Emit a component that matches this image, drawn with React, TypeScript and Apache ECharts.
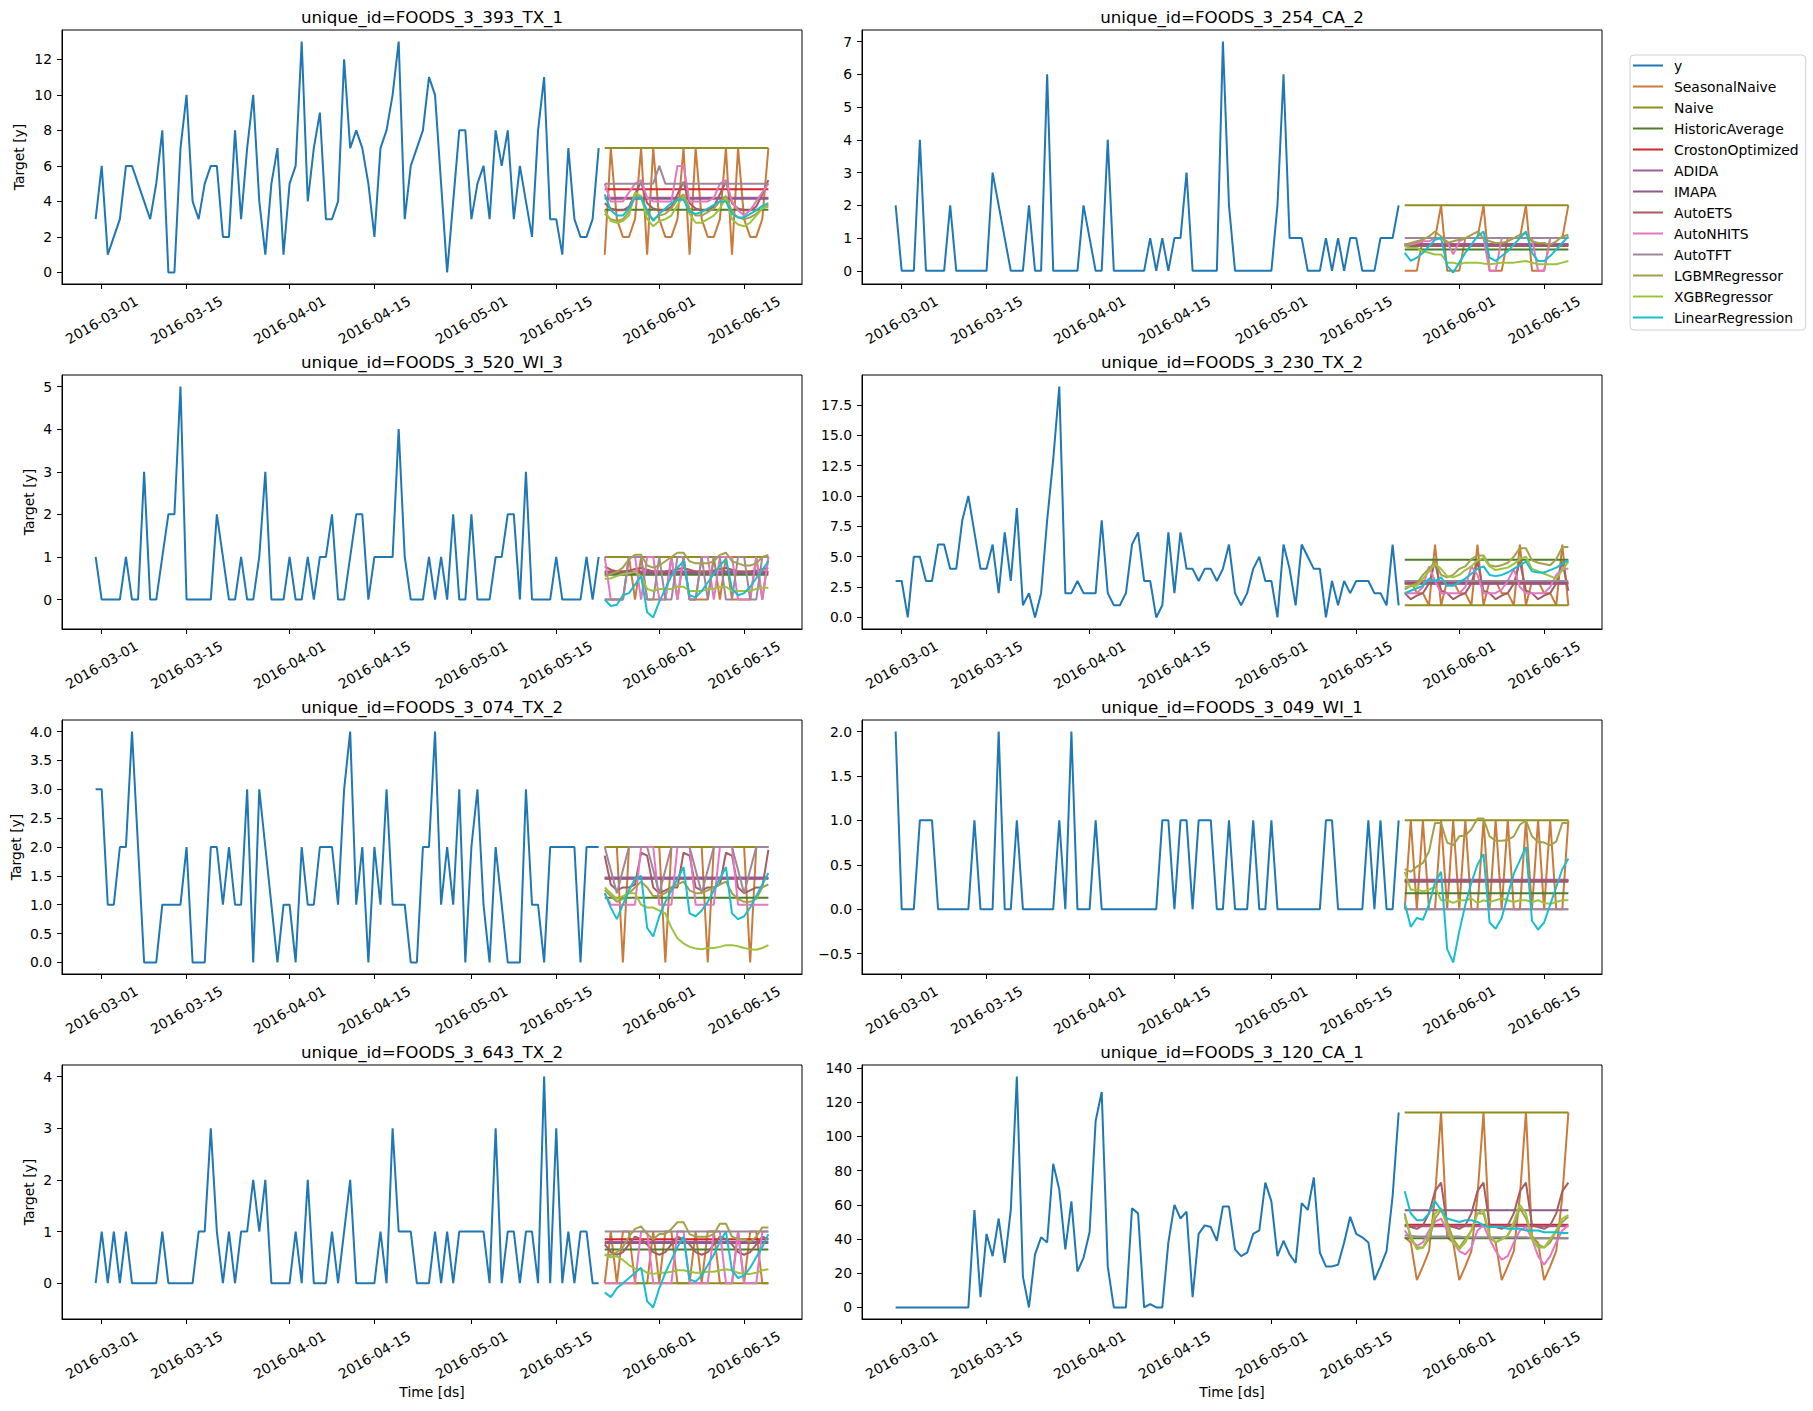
import React, { useEffect, useRef } from "react";
import * as echarts from "echarts";

const FONT = "DejaVu Sans";

// legend order: history first, then the forecast models
const models = [
  "SeasonalNaive", "Naive", "HistoricAverage", "CrostonOptimized", "ADIDA", "IMAPA",
  "AutoETS", "AutoNHITS", "AutoTFT", "LGBMRegressor", "XGBRegressor", "LinearRegression",
];
const lineColors = [
  "#1f77b4", "#c97b3c", "#928e1d", "#4d7e28", "#d62728", "#a35a9d", "#8b5b85",
  "#a65c63", "#e377c2", "#9e8898", "#a3a04a", "#9dc33e", "#17becf",
];

// history: 84 days from 2016-02-29, forecasts: 28 days from 2016-05-23
const histStart = "2016-02-29";
const histDays = 84;
const fcStart = "2016-05-23";
const fcDays = 28;
const xTickLabels = [
  "2016-03-01", "2016-03-15", "2016-04-01", "2016-04-15",
  "2016-05-01", "2016-05-15", "2016-06-01", "2016-06-15",
];

// ---------- FOODS_3_393_TX_1 ----------
const y_393_TX_1 = [3,6,1,2,3,6,6,5,4,3, 5,8,0,0,7,10,4,3,5,6, 6,2,2,8,3,7,10,4,1,5, 7,1,5,6,13,4,7,9,3,3,
  4,12,7,8,7,5,2,7,8,10, 13,3,6,7,8,11,10,5,0,4, 8,8,3,5,6,3,8,6,8,3, 6,4,2,8,11,3,3,1,7,3, 2,2,3,7];
const fc_393_TX_1 = [
  [1,7,3,2,2,3,7, 1,7,3,2,2,3,7, 1,7,3,2,2,3,7, 1,7,3,2,2,3,7],
  [7,7,7,7,7,7,7, 7,7,7,7,7,7,7, 7,7,7,7,7,7,7, 7,7,7,7,7,7,7],
  [3.53,3.53,3.53,3.53,3.53,3.53,3.53, 3.53,3.53,3.53,3.53,3.53,3.53,3.53, 3.53,3.53,3.53,3.53,3.53,3.53,3.53, 3.53,3.53,3.53,3.53,3.53,3.53,3.53],
  [4.68,4.68,4.68,4.68,4.68,4.68,4.68, 4.68,4.68,4.68,4.68,4.68,4.68,4.68, 4.68,4.68,4.68,4.68,4.68,4.68,4.68, 4.68,4.68,4.68,4.68,4.68,4.68,4.68],
  [4.2,4.2,4.2,4.2,4.2,4.2,4.2, 4.2,4.2,4.2,4.2,4.2,4.2,4.2, 4.2,4.2,4.2,4.2,4.2,4.2,4.2, 4.2,4.2,4.2,4.2,4.2,4.2,4.2],
  [4.15,4.15,4.15,4.15,4.15,4.15,4.15, 4.15,4.15,4.15,4.15,4.15,4.15,4.15, 4.15,4.15,4.15,4.15,4.15,4.15,4.15, 4.15,4.15,4.15,4.15,4.15,4.15,4.15],
  [3.9,3.6,3.5,3.5,3.7,4.4,5.1, 3.9,3.6,3.5,3.5,3.7,4.4,5.1, 3.9,3.6,3.5,3.5,3.7,4.4,5.1, 3.9,3.6,3.5,3.5,3.7,4.4,5.2],
  [5.0,4.0,4.0,4.0,4.5,5.0,5.2, 4.2,4.0,4.0,4.0,4.0,6.0,6.0, 4.0,4.0,4.0,4.0,4.2,5.0,5.2, 4.0,3.5,3.2,3.5,4.0,4.5,5.0],
  [5,5,5,5,5,5,5, 5,5,6,5,5,5,5, 5,5,5,5,5,5,5, 5,5,5,5,5,5,5],
  [3.3,3.0,2.9,3.0,3.4,4.4,4.2, 3.3,3.0,3.2,3.3,3.6,4.1,4.4, 3.6,3.2,3.2,3.4,3.6,4.0,4.3, 3.4,3.1,3.0,3.1,3.3,3.6,3.8],
  [3.5,2.9,2.8,2.9,3.2,4.5,4.3, 3.0,2.6,2.9,3.0,3.2,3.8,4.3, 3.3,2.8,2.8,3.0,3.2,3.6,4.2, 3.0,2.7,2.6,2.8,3.2,3.6,3.7],
  [4.4,3.5,3.2,3.2,3.6,4.2,4.2, 3.5,2.9,3.3,3.6,3.9,4.1,4.1, 3.4,3.3,3.4,3.6,3.8,4.0,4.0, 3.3,3.1,3.1,3.3,3.5,3.75,3.9],
];
const ticks_393_TX_1 = [0, 2, 4, 6, 8, 10, 12];

// ---------- FOODS_3_254_CA_2 ----------
const y_254_CA_2 = [2,0,0,0,4,0,0,0,0,2, 0,0,0,0,0,0,3,2,1,0, 0,0,2,0,0,6,0,0,0,0, 0,2,1,0,0,4,0,0,0,0,
  0,0,1,0,1,0,1,1,3,0, 0,0,0,0,7,2,0,0,0,0, 0,0,0,2,6,1,1,1,0,0, 0,1,0,1,0,1,1,0,0,0, 1,1,1,2];
const fc_254_CA_2 = [
  [0,0,0,1,1,1,2, 0,0,0,1,1,1,2, 0,0,0,1,1,1,2, 0,0,0,1,1,1,2],
  [2,2,2,2,2,2,2, 2,2,2,2,2,2,2, 2,2,2,2,2,2,2, 2,2,2,2,2,2,2],
  [0.65,0.65,0.65,0.65,0.65,0.65,0.65, 0.65,0.65,0.65,0.65,0.65,0.65,0.65, 0.65,0.65,0.65,0.65,0.65,0.65,0.65, 0.65,0.65,0.65,0.65,0.65,0.65,0.65],
  [0.8,0.8,0.8,0.8,0.8,0.8,0.8, 0.8,0.8,0.8,0.8,0.8,0.8,0.8, 0.8,0.8,0.8,0.8,0.8,0.8,0.8, 0.8,0.8,0.8,0.8,0.8,0.8,0.8],
  [0.82,0.82,0.82,0.82,0.82,0.82,0.82, 0.82,0.82,0.82,0.82,0.82,0.82,0.82, 0.82,0.82,0.82,0.82,0.82,0.82,0.82, 0.82,0.82,0.82,0.82,0.82,0.82,0.82],
  [0.78,0.78,0.78,0.78,0.78,0.78,0.78, 0.78,0.78,0.78,0.78,0.78,0.78,0.78, 0.78,0.78,0.78,0.78,0.78,0.78,0.78, 0.78,0.78,0.78,0.78,0.78,0.78,0.78],
  [0.76,0.76,0.76,0.76,0.76,0.76,0.76, 0.76,0.76,0.76,0.76,0.76,0.76,0.76, 0.76,0.76,0.76,0.76,0.76,0.76,0.76, 0.76,0.76,0.76,0.76,0.76,0.76,0.76],
  [0.8,0.8,0.85,0.9,0.9,1.0,1.0, 0.9,0.5,0.9,1.0,1.0,1.0,1.0, 0.0,0.0,1.0,1.0,1.0,1.0,1.0, 1.0,0.0,0.0,1.0,1.0,1.0,1.0],
  [1,1,1,1,1,1,1, 1,1,1,1,1,1,1, 1,1,1,1,1,1,1, 1,1,1,1,1,1,1],
  [0.8,0.85,0.9,0.95,1.05,1.2,1.05, 0.85,0.9,0.95,1.0,1.1,1.2,1.0, 0.9,0.85,0.85,0.9,1.0,1.1,1.15, 0.9,0.85,0.85,0.8,0.9,1.05,1.1],
  [0.75,0.7,0.7,0.6,0.55,0.5,0.5, 0.25,0.25,0.2,0.25,0.25,0.25,0.22, 0.2,0.22,0.25,0.25,0.25,0.28,0.3, 0.25,0.2,0.2,0.2,0.2,0.25,0.3],
  [0.55,0.3,0.4,0.55,0.75,0.95,1.0, 0.15,-0.05,0.25,0.55,0.8,1.05,1.2, 0.4,0.3,0.45,0.6,0.8,1.0,1.2, 0.55,0.3,0.3,0.45,0.65,0.85,1.05],
];
const ticks_254_CA_2 = [0, 1, 2, 3, 4, 5, 6, 7];

// ---------- FOODS_3_520_WI_3 ----------
const y_520_WI_3 = [1,0,0,0,0,1,0,0,3,0, 0,1,2,2,5,0,0,0,0,0, 2,1,0,0,1,0,0,1,3,0, 0,0,1,0,0,1,0,1,1,2,
  0,0,1,2,2,0,1,1,1,1, 4,1,0,0,0,1,0,1,0,2, 0,0,2,0,0,0,1,1,2,2, 0,3,0,0,0,0,1,0,0,0, 0,1,0,1];
const fc_520_WI_3 = [
  [0,0,0,0,1,0,1, 0,0,0,0,1,0,1, 0,0,0,0,1,0,1, 0,0,0,0,1,0,1],
  [1,1,1,1,1,1,1, 1,1,1,1,1,1,1, 1,1,1,1,1,1,1, 1,1,1,1,1,1,1],
  [0.58,0.58,0.58,0.58,0.58,0.58,0.58, 0.58,0.58,0.58,0.58,0.58,0.58,0.58, 0.58,0.58,0.58,0.58,0.58,0.58,0.58, 0.58,0.58,0.58,0.58,0.58,0.58,0.58],
  [0.66,0.66,0.66,0.66,0.66,0.66,0.66, 0.66,0.66,0.66,0.66,0.66,0.66,0.66, 0.66,0.66,0.66,0.66,0.66,0.66,0.66, 0.66,0.66,0.66,0.66,0.66,0.66,0.66],
  [0.64,0.64,0.64,0.64,0.64,0.64,0.64, 0.64,0.64,0.64,0.64,0.64,0.64,0.64, 0.64,0.64,0.64,0.64,0.64,0.64,0.64, 0.64,0.64,0.64,0.64,0.64,0.64,0.64],
  [0.62,0.62,0.62,0.62,0.62,0.62,0.62, 0.62,0.62,0.62,0.62,0.62,0.62,0.62, 0.62,0.62,0.62,0.62,0.62,0.62,0.62, 0.62,0.62,0.62,0.62,0.62,0.62,0.62],
  [0.78,0.7,0.66,0.66,0.68,0.72,0.74, 0.7,0.66,0.65,0.66,0.68,0.72,0.74, 0.7,0.66,0.65,0.66,0.68,0.72,0.74, 0.7,0.66,0.65,0.66,0.68,0.72,0.74],
  [1,0,0,0,1,1,0, 1,1,0,0,1,0,1, 0,0,1,1,0,1,1, 1,0,0,0,1,0,1],
  [0,0,0,0,1,1,1, 0,0,1,0,0,1,1, 0,0,1,0,1,1,0, 0,1,1,0,0,1,1],
  [0.55,0.6,0.65,0.75,0.95,1.05,1.05, 0.8,0.75,0.8,0.9,1.0,1.1,1.1, 0.9,0.85,0.85,0.85,0.9,1.05,1.1, 0.9,0.85,0.8,0.8,0.85,1.0,1.05],
  [0.48,0.5,0.55,0.6,0.62,0.65,0.55, 0.25,0.2,0.25,0.25,0.25,0.3,0.3, 0.2,0.2,0.2,0.25,0.25,0.3,0.3, 0.2,0.2,0.2,0.2,0.25,0.28,0.28],
  [0.0,-0.15,-0.12,0.1,0.15,0.35,0.55, -0.3,-0.42,-0.05,0.25,0.55,0.75,0.9, 0.1,0.05,0.2,0.4,0.6,0.8,0.95, 0.25,0.1,0.15,0.3,0.5,0.7,0.9],
];
const ticks_520_WI_3 = [0, 1, 2, 3, 4, 5];

// ---------- FOODS_3_230_TX_2 ----------
const y_230_TX_2 = [3,3,0,5,5,3,3,6,6,4, 4,8,10,7,4,4,6,2,7,3, 9,1,2,0,2,8,13,19,2,2, 3,2,2,2,8,2,1,1,2,6,
  7,3,3,0,1,7,2,7,4,4, 3,4,4,3,4,6,2,1,2,4, 5,3,3,0,6,4,1,6,5,4, 4,0,3,1,3,2,3,3,3,2, 2,1,6,1];
const fc_230_TX_2 = [
  [3,3,2,2,1,6,1, 3,3,2,2,1,6,1, 3,3,2,2,1,6,1, 3,3,2,2,1,6,1],
  [1,1,1,1,1,1,1, 1,1,1,1,1,1,1, 1,1,1,1,1,1,1, 1,1,1,1,1,1,1],
  [4.75,4.75,4.75,4.75,4.75,4.75,4.75, 4.75,4.75,4.75,4.75,4.75,4.75,4.75, 4.75,4.75,4.75,4.75,4.75,4.75,4.75, 4.75,4.75,4.75,4.75,4.75,4.75,4.75],
  [2.85,2.85,2.85,2.85,2.85,2.85,2.85, 2.85,2.85,2.85,2.85,2.85,2.85,2.85, 2.85,2.85,2.85,2.85,2.85,2.85,2.85, 2.85,2.85,2.85,2.85,2.85,2.85,2.85],
  [2.8,2.8,2.8,2.8,2.8,2.8,2.8, 2.8,2.8,2.8,2.8,2.8,2.8,2.8, 2.8,2.8,2.8,2.8,2.8,2.8,2.8, 2.8,2.8,2.8,2.8,2.8,2.8,2.8],
  [2.78,2.78,2.78,2.78,2.78,2.78,2.78, 2.78,2.78,2.78,2.78,2.78,2.78,2.78, 2.78,2.78,2.78,2.78,2.78,2.78,2.78, 2.78,2.78,2.78,2.78,2.78,2.78,2.78],
  [2.0,1.5,1.8,2.0,2.8,4.6,2.2, 2.0,1.5,1.8,2.0,2.8,4.6,2.2, 2.0,1.5,1.8,2.0,2.8,4.6,2.2, 2.0,1.5,1.8,2.0,2.8,4.6,2.2],
  [2.0,2.0,2.0,2.5,4.2,3.0,2.0, 2.0,2.0,2.0,2.5,4.2,3.5,2.0, 2.0,2.0,2.3,3.0,4.0,2.5,2.0, 2.0,2.0,2.0,2.5,3.5,4.0,4.0],
  [3,3,3,3,3,3,3, 3,3,3,3,3,3,3, 3,3,3,3,3,3,3, 3,3,3,3,3,3,3],
  [2.3,2.6,2.8,3.5,4.0,4.6,3.5, 3.3,3.5,4.0,4.2,4.8,5.1,5.1, 4.3,4.2,4.3,4.5,5.0,5.7,5.7, 4.7,4.5,4.4,4.3,4.8,5.8,5.8],
  [2.5,2.6,2.6,3.2,3.8,4.4,4.0, 3.4,3.3,3.5,3.9,4.2,4.7,4.9, 4.2,3.9,4.0,4.1,4.4,4.8,5.0, 4.0,3.8,3.6,3.4,3.2,3.9,4.6],
  [2.0,2.2,2.4,2.6,3.2,3.0,3.3, 2.6,2.6,2.9,3.2,3.6,4.0,4.2, 3.5,3.4,3.5,3.7,4.0,4.3,4.6, 3.8,3.7,3.7,3.9,4.1,4.4,4.7],
];
const ticks_230_TX_2 = [0, 2.5, 5, 7.5, 10, 12.5, 15, 17.5];

// ---------- FOODS_3_074_TX_2 ----------
const y_074_TX_2 = [3,3,1,1,2,2,4,2,0,0, 0,1,1,1,1,2,0,0,0,2, 2,1,2,1,1,3,0,3,2,1, 0,1,1,0,2,1,1,2,2,2,
  1,3,4,1,2,0,2,1,3,1, 1,1,0,0,2,2,4,1,2,1, 3,0,2,3,1,0,2,1,0,0, 0,3,1,1,0,2,2,2,2,2, 0,2,2,2];
const fc_074_TX_2 = [
  [2,2,2,0,2,2,2, 2,2,2,0,2,2,2, 2,2,2,0,2,2,2, 2,2,2,0,2,2,2],
  [2,2,2,2,2,2,2, 2,2,2,2,2,2,2, 2,2,2,2,2,2,2, 2,2,2,2,2,2,2],
  [1.12,1.12,1.12,1.12,1.12,1.12,1.12, 1.12,1.12,1.12,1.12,1.12,1.12,1.12, 1.12,1.12,1.12,1.12,1.12,1.12,1.12, 1.12,1.12,1.12,1.12,1.12,1.12,1.12],
  [1.46,1.46,1.46,1.46,1.46,1.46,1.46, 1.46,1.46,1.46,1.46,1.46,1.46,1.46, 1.46,1.46,1.46,1.46,1.46,1.46,1.46, 1.46,1.46,1.46,1.46,1.46,1.46,1.46],
  [1.47,1.47,1.47,1.47,1.47,1.47,1.47, 1.47,1.47,1.47,1.47,1.47,1.47,1.47, 1.47,1.47,1.47,1.47,1.47,1.47,1.47, 1.47,1.47,1.47,1.47,1.47,1.47,1.47],
  [1.45,1.45,1.45,1.45,1.45,1.45,1.45, 1.45,1.45,1.45,1.45,1.45,1.45,1.45, 1.45,1.45,1.45,1.45,1.45,1.45,1.45, 1.45,1.45,1.45,1.45,1.45,1.45,1.45],
  [1.85,1.35,1.25,1.3,1.3,1.35,1.9, 1.85,1.3,1.2,1.25,1.3,1.3,1.9, 1.85,1.3,1.25,1.3,1.3,1.35,1.9, 1.85,1.3,1.2,1.25,1.3,1.3,1.95],
  [1.2,1.0,1.0,1.0,1.0,1.0,2.0, 2.0,2.0,1.0,1.0,1.0,2.0,2.0, 2.0,1.0,1.0,1.0,1.0,2.0,2.0, 2.0,1.0,1.0,1.0,1.0,1.0,1.0],
  [2.0,1.6,1.2,1.6,2.0,2.0,2.0, 2.0,1.6,1.2,1.6,2.0,2.0,2.0, 2.0,1.6,1.2,1.6,2.0,2.0,2.0, 2.0,1.6,1.2,1.6,2.0,2.0,2.0],
  [1.25,1.15,1.05,1.1,1.2,1.3,1.4, 1.3,1.15,1.15,1.2,1.3,1.35,1.4, 1.25,1.2,1.2,1.25,1.3,1.35,1.4, 1.2,1.1,1.05,1.05,1.1,1.3,1.35],
  [1.3,1.2,1.1,1.15,1.2,1.2,1.0, 0.95,0.95,0.9,0.85,0.6,0.42,0.33, 0.27,0.24,0.23,0.25,0.25,0.27,0.3, 0.3,0.28,0.25,0.23,0.22,0.25,0.3],
  [1.2,0.95,0.75,1.0,1.25,1.45,1.5, 0.6,0.45,0.8,1.05,1.25,1.45,1.65, 0.85,0.8,0.9,1.05,1.25,1.45,1.65, 0.85,0.75,0.8,0.95,1.15,1.35,1.55],
];
const ticks_074_TX_2 = [0, 0.5, 1, 1.5, 2, 2.5, 3, 3.5, 4];

// ---------- FOODS_3_049_WI_1 ----------
const y_049_WI_1 = [2,0,0,0,1,1,1,0,0,0, 0,0,0,1,0,0,0,2,0,0, 1,0,0,0,0,0,0,1,0,2, 0,0,0,1,0,0,0,0,0,0,
  0,0,0,0,1,1,0,1,1,0, 1,1,1,0,0,1,0,0,0,1, 0,0,1,0,0,0,0,0,0,0, 0,1,1,0,0,0,0,0,1,0, 1,0,0,1];
const fc_049_WI_1 = [
  [0,1,0,1,0,0,1, 0,1,0,1,0,0,1, 0,1,0,1,0,0,1, 0,1,0,1,0,0,1],
  [1,1,1,1,1,1,1, 1,1,1,1,1,1,1, 1,1,1,1,1,1,1, 1,1,1,1,1,1,1],
  [0.18,0.18,0.18,0.18,0.18,0.18,0.18, 0.18,0.18,0.18,0.18,0.18,0.18,0.18, 0.18,0.18,0.18,0.18,0.18,0.18,0.18, 0.18,0.18,0.18,0.18,0.18,0.18,0.18],
  [0.32,0.32,0.32,0.32,0.32,0.32,0.32, 0.32,0.32,0.32,0.32,0.32,0.32,0.32, 0.32,0.32,0.32,0.32,0.32,0.32,0.32, 0.32,0.32,0.32,0.32,0.32,0.32,0.32],
  [0.33,0.33,0.33,0.33,0.33,0.33,0.33, 0.33,0.33,0.33,0.33,0.33,0.33,0.33, 0.33,0.33,0.33,0.33,0.33,0.33,0.33, 0.33,0.33,0.33,0.33,0.33,0.33,0.33],
  [0.31,0.31,0.31,0.31,0.31,0.31,0.31, 0.31,0.31,0.31,0.31,0.31,0.31,0.31, 0.31,0.31,0.31,0.31,0.31,0.31,0.31, 0.31,0.31,0.31,0.31,0.31,0.31,0.31],
  [0.32,0.32,0.32,0.32,0.32,0.32,0.32, 0.32,0.32,0.32,0.32,0.32,0.32,0.32, 0.32,0.32,0.32,0.32,0.32,0.32,0.32, 0.32,0.32,0.32,0.32,0.32,0.32,0.32],
  [0,0,0,0,0,0,0, 0,0,0,0,0,0,0, 0,0,0,0,0,0,0, 0,0,0,0,0,0,0],
  [0,0,0,0,0,0,0, 0,0,0,0,0,0,0, 0,0,0,0,0,0,0, 0,0,0,0,0,0,0],
  [0.45,0.42,0.48,0.52,0.65,0.97,0.97, 0.75,0.72,0.82,0.83,0.9,1.02,1.02, 0.82,0.77,0.77,0.78,0.82,0.95,1.0, 0.82,0.76,0.75,0.72,0.76,0.97,0.97],
  [0.42,0.22,0.22,0.2,0.22,0.25,0.1, 0.1,0.07,0.1,0.1,0.12,0.07,0.1, 0.08,0.1,0.12,0.1,0.08,0.1,0.1, 0.08,0.1,0.07,0.06,0.08,0.1,0.1],
  [0.07,-0.2,-0.1,-0.12,0.05,0.3,0.42, -0.45,-0.6,-0.25,0.05,0.3,0.5,0.62, -0.15,-0.22,-0.1,0.15,0.4,0.55,0.7, -0.13,-0.23,-0.15,0.05,0.25,0.45,0.57],
];
const ticks_049_WI_1 = [-0.5, 0, 0.5, 1, 1.5, 2];

// ---------- FOODS_3_643_TX_2 ----------
const y_643_TX_2 = [0,1,0,1,0,1,0,0,0,0, 0,1,0,0,0,0,0,1,1,3, 1,0,1,0,1,1,2,1,2,0, 0,0,0,1,0,2,0,0,0,1,
  0,1,2,0,0,0,0,1,0,3, 1,1,1,0,0,0,1,0,1,0, 1,1,1,1,1,0,3,0,1,1, 0,1,1,0,4,0,3,0,1,0, 1,1,0,0];
const fc_643_TX_2 = [
  [0,1,0,1,1,0,0, 0,1,0,1,1,0,0, 0,1,0,1,1,0,0, 0,1,0,1,1,0,0],
  [0,0,0,0,0,0,0, 0,0,0,0,0,0,0, 0,0,0,0,0,0,0, 0,0,0,0,0,0,0],
  [0.65,0.65,0.65,0.65,0.65,0.65,0.65, 0.65,0.65,0.65,0.65,0.65,0.65,0.65, 0.65,0.65,0.65,0.65,0.65,0.65,0.65, 0.65,0.65,0.65,0.65,0.65,0.65,0.65],
  [0.85,0.85,0.85,0.85,0.85,0.85,0.85, 0.85,0.85,0.85,0.85,0.85,0.85,0.85, 0.85,0.85,0.85,0.85,0.85,0.85,0.85, 0.85,0.85,0.85,0.85,0.85,0.85,0.85],
  [0.8,0.8,0.8,0.8,0.8,0.8,0.8, 0.8,0.8,0.8,0.8,0.8,0.8,0.8, 0.8,0.8,0.8,0.8,0.8,0.8,0.8, 0.8,0.8,0.8,0.8,0.8,0.8,0.8],
  [0.78,0.78,0.78,0.78,0.78,0.78,0.78, 0.78,0.78,0.78,0.78,0.78,0.78,0.78, 0.78,0.78,0.78,0.78,0.78,0.78,0.78, 0.78,0.78,0.78,0.78,0.78,0.78,0.78],
  [0.75,0.6,0.55,0.6,0.75,0.9,0.85, 0.75,0.6,0.55,0.6,0.75,0.9,0.85, 0.75,0.6,0.55,0.6,0.75,0.9,0.85, 0.75,0.6,0.55,0.6,0.75,0.9,0.85],
  [0,0,0,0,0,0,1, 1,0,0,0,0,1,1, 0,0,0,0,1,1,0, 0,1,0,0,0,1,1],
  [1,1,1,1,1,1,1, 1,1,1,1,1,1,1, 1,1,1,1,1,1,1, 1,1,1,1,1,1,1],
  [0.55,0.55,0.6,0.7,0.9,1.05,1.1, 0.95,0.85,0.95,0.95,1.05,1.18,1.18, 0.95,0.9,0.9,0.9,0.95,1.15,1.15, 0.9,0.85,0.85,0.8,0.9,1.08,1.08],
  [0.55,0.5,0.52,0.45,0.35,0.28,0.27, 0.2,0.18,0.2,0.2,0.22,0.25,0.25, 0.22,0.2,0.2,0.22,0.22,0.25,0.27, 0.25,0.2,0.18,0.18,0.2,0.25,0.27],
  [-0.18,-0.27,-0.1,0.0,0.1,0.2,0.3, -0.35,-0.47,-0.1,0.2,0.45,0.7,0.9, 0.07,0.03,0.15,0.35,0.55,0.8,1.0, 0.25,0.1,0.15,0.3,0.5,0.7,0.95],
];
const ticks_643_TX_2 = [0, 1, 2, 3, 4];

// ---------- FOODS_3_120_CA_1 ----------
const y_120_CA_1 = [0,0,0,0,0,0,0,0,0,0, 0,0,0,57,6,43,30,52,26,57, 135,18,0,31,41,38,84,69,34,62, 21,29,44,109,126,24,0,0,0,58,
  55,0,2,0,0,38,60,52,56,6, 43,48,47,39,59,59,34,30,32,43, 45,73,62,30,39,31,26,61,57,76, 32,24,24,25,38,53,43,41,38,16, 24,33,65,114];
const fc_120_CA_1 = [
  [41,38,16,24,33,65,114, 41,38,16,24,33,65,114, 41,38,16,24,33,65,114, 41,38,16,24,33,65,114],
  [114,114,114,114,114,114,114, 114,114,114,114,114,114,114, 114,114,114,114,114,114,114, 114,114,114,114,114,114,114],
  [40.5,40.5,40.5,40.5,40.5,40.5,40.5, 40.5,40.5,40.5,40.5,40.5,40.5,40.5, 40.5,40.5,40.5,40.5,40.5,40.5,40.5, 40.5,40.5,40.5,40.5,40.5,40.5,40.5],
  [48.3,48.3,48.3,48.3,48.3,48.3,48.3, 48.3,48.3,48.3,48.3,48.3,48.3,48.3, 48.3,48.3,48.3,48.3,48.3,48.3,48.3, 48.3,48.3,48.3,48.3,48.3,48.3,48.3],
  [47.5,47.5,47.5,47.5,47.5,47.5,47.5, 47.5,47.5,47.5,47.5,47.5,47.5,47.5, 47.5,47.5,47.5,47.5,47.5,47.5,47.5, 47.5,47.5,47.5,47.5,47.5,47.5,47.5],
  [56.8,56.8,56.8,56.8,56.8,56.8,56.8, 56.8,56.8,56.8,56.8,56.8,56.8,56.8, 56.8,56.8,56.8,56.8,56.8,56.8,56.8, 56.8,56.8,56.8,56.8,56.8,56.8,56.8],
  [48,47,46,48,55,68,73, 48,47,46,48,55,68,73, 48,47,46,48,55,68,73, 48,47,46,48,55,68,73],
  [45,40,36,38,45,50,52, 45,38,33,31,35,45,48, 40,33,28,30,38,45,47, 40,30,25,30,38,45,48],
  [42,42,41.5,41.5,41.5,41.5,41.5, 41.5,41.5,41.5,41,41,41,41, 41,41,41,41,41,41,41, 40.5,40.5,40.5,40.5,40.5,40.5,40.5],
  [55,40,35,35,40,52,57, 50,40,35,40,45,55,55, 42,38,40,42,48,58,52, 42,37,35,38,45,50,53],
  [53,42,34,35,42,55,58, 47,38,34,38,45,55,57, 42,38,40,42,50,60,55, 40,35,35,40,45,52,54],
  [68,55,51,51,55,62,57, 52,51,50,51,51,50,48, 47,47,47,46,46,46,45, 45,45,44,44,44,43.5,43.5],
];
const ticks_120_CA_1 = [0, 20, 40, 60, 80, 100, 120, 140];

// panel table: title, history, forecasts, y ticks, decimals of tick labels, y-name gap
const panels = [
  { id: "FOODS_3_393_TX_1", y: y_393_TX_1, fc: fc_393_TX_1, ticks: ticks_393_TX_1, dec: 0, gap: 36 },
  { id: "FOODS_3_254_CA_2", y: y_254_CA_2, fc: fc_254_CA_2, ticks: ticks_254_CA_2, dec: 0, gap: 26 },
  { id: "FOODS_3_520_WI_3", y: y_520_WI_3, fc: fc_520_WI_3, ticks: ticks_520_WI_3, dec: 0, gap: 26 },
  { id: "FOODS_3_230_TX_2", y: y_230_TX_2, fc: fc_230_TX_2, ticks: ticks_230_TX_2, dec: 1, gap: 44 },
  { id: "FOODS_3_074_TX_2", y: y_074_TX_2, fc: fc_074_TX_2, ticks: ticks_074_TX_2, dec: 1, gap: 39 },
  { id: "FOODS_3_049_WI_1", y: y_049_WI_1, fc: fc_049_WI_1, ticks: ticks_049_WI_1, dec: 1, gap: 44 },
  { id: "FOODS_3_643_TX_2", y: y_643_TX_2, fc: fc_643_TX_2, ticks: ticks_643_TX_2, dec: 0, gap: 26 },
  { id: "FOODS_3_120_CA_1", y: y_120_CA_1, fc: fc_120_CA_1, ticks: ticks_120_CA_1, dec: 0, gap: 36 },
];

const parseDay = (s: string, offset = 0) => {
  const [Y, M, D] = s.split("-").map(Number);
  return new Date(Y, M - 1, D + offset).getTime();
};
const histDates = Array.from({ length: histDays }, (_, i) => parseDay(histStart, i));
const fcDates = Array.from({ length: fcDays }, (_, i) => parseDay(fcStart, i));
const xTicks = xTickLabels.map((s) => parseDay(s));
// matplotlib keeps a 5% margin on both sides of the data
const xSpan = fcDates[fcDates.length - 1] - histDates[0];
const xMin = histDates[0] - 0.05 * xSpan;
const xMax = fcDates[fcDates.length - 1] + 0.05 * xSpan;

const two = (n: number) => (n < 10 ? "0" + n : "" + n);
const fmtDate = (v: number) => {
  const d = new Date(v);
  return d.getFullYear() + "-" + two(d.getMonth() + 1) + "-" + two(d.getDate());
};
const fmtNum = (v: number, dec: number) => (v < 0 ? "\u2212" : "") + Math.abs(v).toFixed(dec);

const txt = { fontFamily: FONT, fontSize: 13.9, color: "#000" };

function buildOption() {
  const grid: any[] = [];
  const xAxis: any[] = [];
  const yAxis: any[] = [];
  const title: any[] = [];
  const series: any[] = [];

  panels.forEach((p, i) => {
    const col = i % 2;
    const row = Math.floor(i / 2);
    const left = col === 0 ? 62 : 862;
    const top = 30 + 345 * row;
    grid.push({
      left, top, width: 740, height: 254,
      show: true, borderColor: "#000", borderWidth: 1, backgroundColor: "transparent",
      containLabel: false, outerBoundsMode: "none",
    });
    title.push({
      text: "unique_id=" + p.id,
      left: left + 370, top: top - 22, textAlign: "center", padding: 0,
      textStyle: { fontFamily: FONT, fontSize: 16.7, fontWeight: "normal", color: "#000" },
    });

    const all = p.y.concat(...p.fc);
    const lo = Math.min(...all);
    const hi = Math.max(...all);
    const pad = 0.05 * (hi - lo);

    // dates are plotted as millisecond numbers on a value axis so that the
    // semi-monthly ticks can be placed exactly
    xAxis.push({
      type: "value", gridIndex: i, min: xMin, max: xMax, scale: true,
      axisLine: { show: true, onZero: false, lineStyle: { color: "#000", width: 1 } },
      axisTick: { show: true, length: 5, lineStyle: { color: "#000", width: 1 }, customValues: xTicks },
      axisLabel: {
        ...txt, customValues: xTicks, rotate: 30, align: "center", verticalAlign: "middle",
        margin: 36, formatter: (v: number) => fmtDate(v),
      },
      splitLine: { show: false },
      name: row === 3 ? "Time [ds]" : "",
      nameLocation: "middle", nameGap: 66, nameTextStyle: txt,
    });
    yAxis.push({
      type: "value", gridIndex: i, min: lo - pad, max: hi + pad,
      axisLine: { show: true, onZero: false, lineStyle: { color: "#000", width: 1 } },
      axisTick: { show: true, length: 5, lineStyle: { color: "#000", width: 1 }, customValues: p.ticks },
      axisLabel: { ...txt, customValues: p.ticks, margin: 10, formatter: (v: number) => fmtNum(v, p.dec) },
      splitLine: { show: false },
      name: col === 0 ? "Target [y]" : "",
      nameLocation: "middle", nameGap: p.gap, nameTextStyle: txt,
    });

    const line = (name: string, color: string, data: number[][]) => ({
      name, type: "line", xAxisIndex: i, yAxisIndex: i, data,
      showSymbol: false, symbol: "none", silent: true,
      lineStyle: { color, width: 2 }, itemStyle: { color },
      emphasis: { disabled: true },
    });
    series.push(line("y", lineColors[0], p.y.map((v, k) => [histDates[k], v])));
    p.fc.forEach((arr, m) => {
      series.push(line(models[m], lineColors[m + 1], arr.map((v, k) => [fcDates[k], v])));
    });
  });

  return {
    animation: false,
    backgroundColor: "#fff",
    title,
    grid,
    xAxis,
    yAxis,
    series,
    legend: {
      data: ["y", ...models],
      orient: "vertical",
      left: 1630, top: 55,
      icon: "rect", itemWidth: 30, itemHeight: 2, itemGap: 0,
      padding: [0, 7, 2, 3],
      backgroundColor: "#fff", borderColor: "#d0d0d0", borderWidth: 1, borderRadius: 4,
      selectedMode: false,
      textStyle: { ...txt, lineHeight: 21, padding: [0, 0, 0, 6] },
    },
  };
}

export default function App() {
  const chartRef = useRef<HTMLDivElement>(null);

  useEffect(() => {
    const dom = chartRef.current;
    if (!dom) return;
    const chart = echarts.init(dom, undefined, { renderer: "svg" });
    chart.setOption(buildOption() as any);
    return () => {
      chart.dispose();
    };
  }, []);

  return (
    <div
      ref={chartRef}
      style={{ position: "absolute", left: 0, top: 0, width: 1813, height: 1411, background: "#fff" }}
    />
  );
}
